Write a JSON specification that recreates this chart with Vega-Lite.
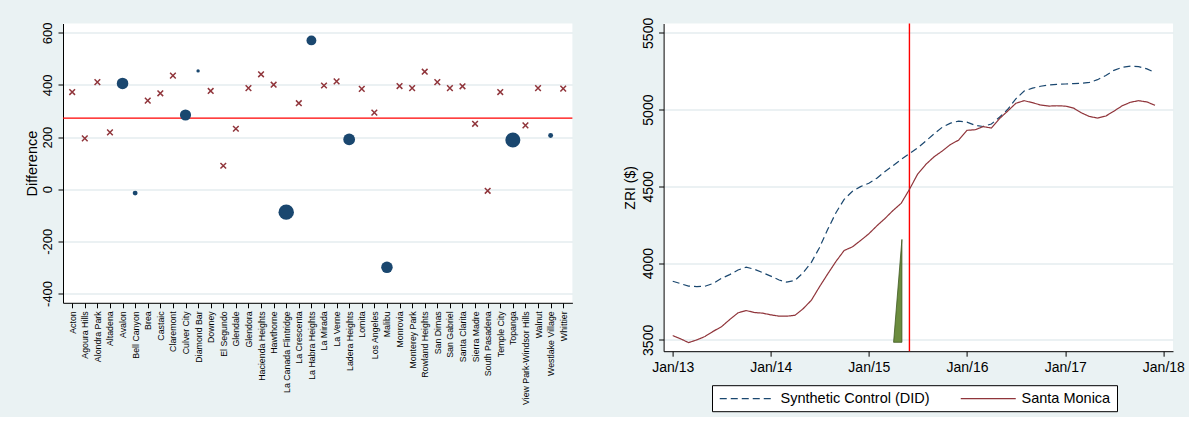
{
  "$schema": "https://vega.github.io/schema/vega-lite/v6.json",
  "background": "#eaf2f3",
  "padding": {"left": 24, "top": 16.5, "right": 4, "bottom": 4},
  "config": {
    "font": "Liberation Sans",
    "view": {"fill": "white", "stroke": null},
    "axis": {"domainColor": "black", "tickColor": "black", "labelColor": "black", "titleColor": "black", "titleFontWeight": "normal", "tickSize": 5, "domainWidth": 1, "tickWidth": 1, "gridColor": "#e4edef", "gridWidth": 1.3, "labelFlush": false}
  },
  "bounds": "flush",
  "spacing": 90.6,
  "resolve": {"scale": {"color": "independent", "strokeDash": "independent", "size": "independent", "x": "independent", "y": "independent"}},
  "hconcat": [
    {
      "width": 509.4,
      "height": 279.3,
      "layer": [
        {
          "data": {"values": [{"diff": 273}]},
          "mark": {"type": "rule", "color": "#ff0000", "strokeWidth": 1.4},
          "encoding": {
            "y": {"field": "diff", "type": "quantitative",
              "scale": {"domain": [-436, 636], "nice": false, "zero": false},
              "axis": {"values": [-400, -200, 0, 200, 400, 600], "labelExpr": "'' + datum.value", "title": "Difference", "titleFontSize": 14.5, "labelFontSize": 13, "labelAngle": -90, "labelPadding": 4, "titlePadding": 2, "grid": true}}
          }
        },
        {
          "data": {"name": "towns"},
          "transform": [{"filter": "datum.w == 0"}],
          "mark": {"type": "point", "shape": "M-1,-1L1,1M-1,1L1,-1", "filled": false, "color": "#90353b", "strokeWidth": 1.5, "size": 32, "opacity": 1},
          "encoding": {
            "x": {"field": "name", "type": "nominal", "sort": null,
              "scale": {"type": "point", "padding": 0.73, "domain": ["Acton", "Agoura Hills", "Alondra Park", "Altadena", "Avalon", "Bell Canyon", "Brea", "Castaic", "Claremont", "Culver City", "Diamond Bar", "Downey", "El Segundo", "Glendale", "Glendora", "Hacienda Heights", "Hawthorne", "La Canada Flintridge", "La Crescenta", "La Habra Heights", "La Mirada", "La Verne", "Ladera Heights", "Lomita", "Los Angeles", "Malibu", "Monrovia", "Monterey Park", "Rowland Heights", "San Dimas", "San Gabriel", "Santa Clarita", "Sierra Madre", "South Pasadena", "Temple City", "Topanga", "View Park-Windsor Hills", "Walnut", "Westlake Village", "Whittier"]},
              "axis": {"title": null, "labelAngle": -90, "labelFontSize": 8.8, "labelPadding": 3, "grid": false, "labelLimit": 200}},
            "y": {"field": "diff", "type": "quantitative"}
          }
        },
        {
          "data": {"name": "towns"},
          "transform": [{"filter": "datum.w > 0"}],
          "mark": {"type": "circle", "color": "#1a476f", "opacity": 1},
          "encoding": {
            "x": {"field": "name", "type": "nominal", "sort": null},
            "y": {"field": "diff", "type": "quantitative"},
            "size": {"field": "w", "type": "quantitative", "scale": {"type": "linear", "domain": [0, 1], "range": [0, 1150], "zero": true}, "legend": null}
          }
        }
      ]
    },
    {
      "width": 509.4,
      "height": 327.7,
      "layer": [
        {
          "data": {"values": [
            {"date": "2015-04-03T00:00:00", "zri": 3484, "zri2": 3484},
            {"date": "2015-05-04T00:00:00", "zri": 4154, "zri2": 3484}
          ]},
          "mark": {"type": "area", "fill": "#6b8c3e", "stroke": "#3f5a22", "strokeWidth": 0.8},
          "encoding": {
            "x": {"field": "date", "type": "temporal",
              "scale": {"domain": [{"year": 2012, "month": 11, "date": 28}, {"year": 2018, "month": 2, "date": 6}]},
              "axis": {"values": [{"year": 2013, "month": 1, "date": 1}, {"year": 2014, "month": 1, "date": 1}, {"year": 2015, "month": 1, "date": 1}, {"year": 2016, "month": 1, "date": 1}, {"year": 2017, "month": 1, "date": 1}, {"year": 2018, "month": 1, "date": 1}], "format": "%b/%y", "labelFontSize": 14, "labelPadding": 4, "title": null, "grid": false, "labelAngle": 0}},
            "y": {"field": "zri", "type": "quantitative",
              "scale": {"domain": [3426, 5561], "nice": false, "zero": false},
              "axis": {"values": [3500, 4000, 4500, 5000, 5500], "labelExpr": "'' + datum.value", "title": "ZRI ($)", "titleFontSize": 14, "labelFontSize": 14, "labelAngle": -90, "labelPadding": 3, "titlePadding": 4, "grid": true}},
            "y2": {"field": "zri2"}
          }
        },
        {
          "data": {"values": [{"date": "2015-06-01T00:00:00"}]},
          "mark": {"type": "rule", "color": "#ff0000", "strokeWidth": 1.4},
          "encoding": {"x": {"field": "date", "type": "temporal"}}
        },
        {
          "data": {"values": [
            {"date": "2013-01-01T00:00:00", "Synthetic Control (DID)": 3882, "Santa Monica": 3528},
            {"date": "2013-02-01T00:00:00", "Synthetic Control (DID)": 3865, "Santa Monica": 3505},
            {"date": "2013-03-01T00:00:00", "Synthetic Control (DID)": 3850, "Santa Monica": 3482},
            {"date": "2013-04-01T00:00:00", "Synthetic Control (DID)": 3847, "Santa Monica": 3500},
            {"date": "2013-05-01T00:00:00", "Synthetic Control (DID)": 3849, "Santa Monica": 3522},
            {"date": "2013-06-01T00:00:00", "Synthetic Control (DID)": 3868, "Santa Monica": 3556},
            {"date": "2013-07-01T00:00:00", "Synthetic Control (DID)": 3900, "Santa Monica": 3585},
            {"date": "2013-08-01T00:00:00", "Synthetic Control (DID)": 3925, "Santa Monica": 3632},
            {"date": "2013-09-01T00:00:00", "Synthetic Control (DID)": 3955, "Santa Monica": 3676},
            {"date": "2013-10-01T00:00:00", "Synthetic Control (DID)": 3973, "Santa Monica": 3691},
            {"date": "2013-11-01T00:00:00", "Synthetic Control (DID)": 3960, "Santa Monica": 3678},
            {"date": "2013-12-01T00:00:00", "Synthetic Control (DID)": 3938, "Santa Monica": 3674},
            {"date": "2014-01-01T00:00:00", "Synthetic Control (DID)": 3915, "Santa Monica": 3663},
            {"date": "2014-02-01T00:00:00", "Synthetic Control (DID)": 3890, "Santa Monica": 3654},
            {"date": "2014-03-01T00:00:00", "Synthetic Control (DID)": 3876, "Santa Monica": 3654},
            {"date": "2014-04-01T00:00:00", "Synthetic Control (DID)": 3887, "Santa Monica": 3660},
            {"date": "2014-05-01T00:00:00", "Synthetic Control (DID)": 3937, "Santa Monica": 3702},
            {"date": "2014-06-01T00:00:00", "Synthetic Control (DID)": 4005, "Santa Monica": 3758},
            {"date": "2014-07-01T00:00:00", "Synthetic Control (DID)": 4100, "Santa Monica": 3845},
            {"date": "2014-08-01T00:00:00", "Synthetic Control (DID)": 4220, "Santa Monica": 3930},
            {"date": "2014-09-01T00:00:00", "Synthetic Control (DID)": 4330, "Santa Monica": 4012},
            {"date": "2014-10-01T00:00:00", "Synthetic Control (DID)": 4415, "Santa Monica": 4082},
            {"date": "2014-11-01T00:00:00", "Synthetic Control (DID)": 4468, "Santa Monica": 4106},
            {"date": "2014-12-01T00:00:00", "Synthetic Control (DID)": 4498, "Santa Monica": 4147},
            {"date": "2015-01-01T00:00:00", "Synthetic Control (DID)": 4520, "Santa Monica": 4191},
            {"date": "2015-02-01T00:00:00", "Synthetic Control (DID)": 4555, "Santa Monica": 4245},
            {"date": "2015-03-01T00:00:00", "Synthetic Control (DID)": 4595, "Santa Monica": 4289},
            {"date": "2015-04-01T00:00:00", "Synthetic Control (DID)": 4635, "Santa Monica": 4343},
            {"date": "2015-05-01T00:00:00", "Synthetic Control (DID)": 4675, "Santa Monica": 4389},
            {"date": "2015-06-01T00:00:00", "Synthetic Control (DID)": 4713, "Santa Monica": 4480},
            {"date": "2015-07-01T00:00:00", "Synthetic Control (DID)": 4750, "Santa Monica": 4578},
            {"date": "2015-08-01T00:00:00", "Synthetic Control (DID)": 4795, "Santa Monica": 4643},
            {"date": "2015-09-01T00:00:00", "Synthetic Control (DID)": 4842, "Santa Monica": 4693},
            {"date": "2015-10-01T00:00:00", "Synthetic Control (DID)": 4885, "Santa Monica": 4730},
            {"date": "2015-11-01T00:00:00", "Synthetic Control (DID)": 4912, "Santa Monica": 4773},
            {"date": "2015-12-01T00:00:00", "Synthetic Control (DID)": 4925, "Santa Monica": 4801},
            {"date": "2016-01-01T00:00:00", "Synthetic Control (DID)": 4918, "Santa Monica": 4865},
            {"date": "2016-02-01T00:00:00", "Synthetic Control (DID)": 4898, "Santa Monica": 4869},
            {"date": "2016-03-01T00:00:00", "Synthetic Control (DID)": 4890, "Santa Monica": 4889},
            {"date": "2016-04-01T00:00:00", "Synthetic Control (DID)": 4906, "Santa Monica": 4880},
            {"date": "2016-05-01T00:00:00", "Synthetic Control (DID)": 4950, "Santa Monica": 4941},
            {"date": "2016-06-01T00:00:00", "Synthetic Control (DID)": 5002, "Santa Monica": 4991},
            {"date": "2016-07-01T00:00:00", "Synthetic Control (DID)": 5070, "Santa Monica": 5041},
            {"date": "2016-08-01T00:00:00", "Synthetic Control (DID)": 5121, "Santa Monica": 5058},
            {"date": "2016-09-01T00:00:00", "Synthetic Control (DID)": 5140, "Santa Monica": 5045},
            {"date": "2016-10-01T00:00:00", "Synthetic Control (DID)": 5152, "Santa Monica": 5030},
            {"date": "2016-11-01T00:00:00", "Synthetic Control (DID)": 5160, "Santa Monica": 5023},
            {"date": "2016-12-01T00:00:00", "Synthetic Control (DID)": 5165, "Santa Monica": 5025},
            {"date": "2017-01-01T00:00:00", "Synthetic Control (DID)": 5167, "Santa Monica": 5023},
            {"date": "2017-02-01T00:00:00", "Synthetic Control (DID)": 5169, "Santa Monica": 5010},
            {"date": "2017-03-01T00:00:00", "Synthetic Control (DID)": 5172, "Santa Monica": 4980},
            {"date": "2017-04-01T00:00:00", "Synthetic Control (DID)": 5177, "Santa Monica": 4955},
            {"date": "2017-05-01T00:00:00", "Synthetic Control (DID)": 5195, "Santa Monica": 4945},
            {"date": "2017-06-01T00:00:00", "Synthetic Control (DID)": 5222, "Santa Monica": 4958},
            {"date": "2017-07-01T00:00:00", "Synthetic Control (DID)": 5256, "Santa Monica": 4990},
            {"date": "2017-08-01T00:00:00", "Synthetic Control (DID)": 5275, "Santa Monica": 5025},
            {"date": "2017-09-01T00:00:00", "Synthetic Control (DID)": 5284, "Santa Monica": 5048},
            {"date": "2017-10-01T00:00:00", "Synthetic Control (DID)": 5280, "Santa Monica": 5058},
            {"date": "2017-11-01T00:00:00", "Synthetic Control (DID)": 5265, "Santa Monica": 5050},
            {"date": "2017-12-01T00:00:00", "Synthetic Control (DID)": 5241, "Santa Monica": 5028}
          ]},
          "transform": [{"fold": ["Synthetic Control (DID)", "Santa Monica"], "as": ["series", "zri"]}],
          "mark": {"type": "line", "strokeWidth": 1.2},
          "encoding": {
            "x": {"field": "date", "type": "temporal"},
            "y": {"field": "zri", "type": "quantitative"},
            "color": {"field": "series", "type": "nominal",
              "scale": {"domain": ["Synthetic Control (DID)", "Santa Monica"], "range": ["#1a476f", "#90353b"]},
              "legend": {"orient": "none", "legendX": 48.4, "legendY": 361.7, "direction": "horizontal", "title": null, "symbolType": "M-5,0L5,0", "symbolSize": 121, "symbolOffset": 22, "symbolStrokeWidth": 1.2, "labelFontSize": 14.5, "labelOffset": 26, "columnPadding": 28, "padding": 6, "fillColor": "white", "strokeColor": "black", "labelLimit": 400, "labelColor": "black"}},
            "strokeDash": {"field": "series", "type": "nominal",
              "scale": {"domain": ["Synthetic Control (DID)", "Santa Monica"], "range": [[7, 4], [1, 0]]},
              "legend": {"orient": "none", "legendX": 48.4, "legendY": 361.7, "direction": "horizontal", "title": null, "symbolType": "M-5,0L5,0", "symbolSize": 121, "symbolOffset": 22, "symbolStrokeWidth": 1.2, "labelFontSize": 14.5, "labelOffset": 26, "columnPadding": 28, "padding": 6, "fillColor": "white", "strokeColor": "black", "labelLimit": 400, "labelColor": "black"}}
          }
        }
      ]
    }
  ],
  "datasets": {
    "towns": [
      {"name": "Acton", "diff": 373, "w": 0},
      {"name": "Agoura Hills", "diff": 195, "w": 0},
      {"name": "Alondra Park", "diff": 411, "w": 0},
      {"name": "Altadena", "diff": 218, "w": 0},
      {"name": "Avalon", "diff": 406, "w": 0.115},
      {"name": "Bell Canyon", "diff": -15, "w": 0.021},
      {"name": "Brea", "diff": 340, "w": 0},
      {"name": "Castaic", "diff": 368, "w": 0},
      {"name": "Claremont", "diff": 436, "w": 0},
      {"name": "Culver City", "diff": 285, "w": 0.108},
      {"name": "Diamond Bar", "diff": 454, "w": 0.01},
      {"name": "Downey", "diff": 377, "w": 0},
      {"name": "El Segundo", "diff": 90, "w": 0},
      {"name": "Glendale", "diff": 232, "w": 0},
      {"name": "Glendora", "diff": 388, "w": 0},
      {"name": "Hacienda Heights", "diff": 441, "w": 0},
      {"name": "Hawthorne", "diff": 401, "w": 0},
      {"name": "La Canada Flintridge", "diff": -88, "w": 0.207},
      {"name": "La Crescenta", "diff": 330, "w": 0},
      {"name": "La Habra Heights", "diff": 571, "w": 0.084},
      {"name": "La Mirada", "diff": 398, "w": 0},
      {"name": "La Verne", "diff": 414, "w": 0},
      {"name": "Ladera Heights", "diff": 191, "w": 0.121},
      {"name": "Lomita", "diff": 385, "w": 0},
      {"name": "Los Angeles", "diff": 294, "w": 0},
      {"name": "Malibu", "diff": -300, "w": 0.115},
      {"name": "Monrovia", "diff": 396, "w": 0},
      {"name": "Monterey Park", "diff": 388, "w": 0},
      {"name": "Rowland Heights", "diff": 451, "w": 0},
      {"name": "San Dimas", "diff": 411, "w": 0},
      {"name": "San Gabriel", "diff": 388, "w": 0},
      {"name": "Santa Clarita", "diff": 395, "w": 0},
      {"name": "Sierra Madre", "diff": 251, "w": 0},
      {"name": "South Pasadena", "diff": -6, "w": 0},
      {"name": "Temple City", "diff": 373, "w": 0},
      {"name": "Topanga", "diff": 189, "w": 0.197},
      {"name": "View Park-Windsor Hills", "diff": 245, "w": 0},
      {"name": "Walnut", "diff": 388, "w": 0},
      {"name": "Westlake Village", "diff": 206, "w": 0.021},
      {"name": "Whittier", "diff": 386, "w": 0}
    ]
  }
}
